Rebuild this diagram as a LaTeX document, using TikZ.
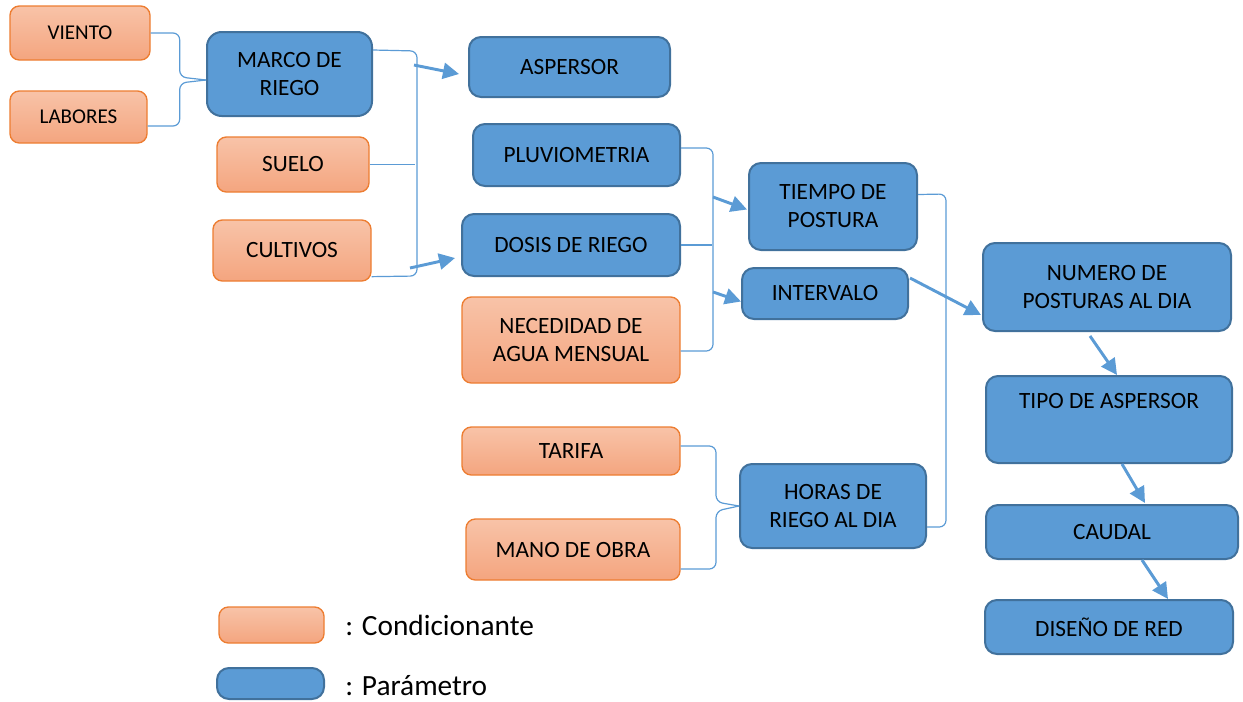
\documentclass[tikz,border=0pt]{standalone}
\usepackage{fontspec}
\setmainfont{Carlito}
\usetikzlibrary{arrows.meta,calc}
\definecolor{pblue}{HTML}{5B9BD5}
\definecolor{pbline}{HTML}{41719C}
\definecolor{otop}{HTML}{F8C3A8}
\definecolor{obot}{HTML}{F4A57F}
\definecolor{oline}{HTML}{ED7D31}
\definecolor{cline}{HTML}{5B9BD5}
\tikzset{
 param/.style={draw=pbline, fill=pblue, line width=1.5pt, rounded corners=9pt, inner sep=0pt, align=center, font=\fontsize{17.5}{21}\selectfont},
 cond/.style={draw=oline, top color=otop, bottom color=obot, line width=1pt, rounded corners=7pt, inner sep=0pt, align=center, font=\fontsize{17.5}{21}\selectfont},
 small/.style={font=\fontsize{15.8}{19}\selectfont},
 conn/.style={draw=cline, line width=0.9pt, rounded corners=5pt},
 arr/.style={draw=cline, line width=2.2pt, -{Triangle[length=12pt,width=12pt]}},
 legtext/.style={anchor=west, font=\fontsize{22}{26}\selectfont, inner sep=0pt},
}
\newcommand\bx[7]{\node[#2, minimum width={(#5-#3)*0.75pt}, minimum height={(#6-#4)*0.75pt}] (#1) at ({(#3+#5)/2},{(#4+#6)/2}) {#7};}
\begin{document}
\begin{tikzpicture}[x=0.75pt,y=-0.75pt]
\useasboundingbox (0,0) rectangle (1243,701);
\bx{viento}{cond,small}{10}{6}{150}{60}{VIENTO}
\bx{labores}{cond,small}{10}{91}{147}{143}{LABORES}
\bx{marco}{param,rounded corners=11pt}{207}{32}{372}{116}{MARCO DE\\RIEGO}
\bx{suelo}{cond}{217}{137}{369}{192}{SUELO}
\bx{cultivos}{cond}{213}{220}{371}{281}{CULTIVOS}
\bx{aspersor}{param}{469}{37}{670}{97}{ASPERSOR}
\bx{pluvio}{param}{473}{124}{680}{186}{PLUVIOMETRIA}
\bx{dosis}{param}{462}{214}{680}{276}{DOSIS DE RIEGO}
\bx{neces}{cond}{462}{297}{680}{383}{NECEDIDAD DE\\AGUA MENSUAL}
\bx{tiempo}{param}{749}{163}{917}{250}{TIEMPO DE\\POSTURA}
\bx{intervalo}{param}{742}{268}{908}{319}{INTERVALO}
\bx{tarifa}{cond}{462}{427}{680}{475}{TARIFA}
\bx{mano}{cond}{466}{519}{680}{580}{MANO DE OBRA}
\bx{horas}{param}{740}{464}{926}{548}{HORAS DE\\RIEGO AL DIA}
\bx{numero}{param}{983}{243}{1231}{331}{NUMERO DE\\POSTURAS AL DIA}
\bx{tipo}{param}{986}{376}{1232}{463}{TIPO DE ASPERSOR\\ \strut}
\bx{caudal}{param}{986}{505}{1238}{559}{CAUDAL}
\bx{diseno}{param}{985}{600}{1233}{654}{DISEÑO DE RED}
\bx{legc}{cond}{219}{607}{324}{643}{}
\bx{legp}{param}{217}{668}{324}{699}{}
\node[legtext] (tc) at (345,625) {: Condicionante};
\node[legtext] (tp) at (345,686) {: Parámetro};
% brackets
\draw[conn] (viento.east) -- ++(29,0) -- ++(0,44) -- ($(marco.west)+(0,6)$);
\draw[conn] ($(labores.east)+(0,9)$) -- ++(32,0) -- ++(0,-43) -- ($(marco.west)+(0,6)$);
\draw[conn] ($(marco.north east)+(0,19)$) -- (417,51) -- (417,276) -- ($(cultivos.south east)+(0,-5)$);
\draw[conn] (suelo.east) -- ++(45,0);
\draw[arr] (414,65) -- ($(aspersor.west)+(-9,7)$);
\draw[arr] (410,268) -- ($(dosis.west)+(-6,13)$);
\draw[conn] ($(pluvio.east)+(0,-7)$) -- (713,148) -- (713,351) -- ($(neces.east)+(0,11)$);
\draw[conn] (dosis.east) -- ++(31,0);
\draw[arr] (713,197) -- ($(tiempo.west)+(-1,3)$);
\draw[arr] (713,292) -- ($(intervalo.west)+(0,8)$);
\draw[conn] ($(tiempo.east)+(0,-12)$) -- (946,194) -- (946,527) -- ($(horas.east)+(0,21)$);
\draw[arr] ($(intervalo.north east)+(1,11)$) -- ($(numero.west)+(-1,28)$);
\draw[conn] ($(tarifa.east)+(0,-5)$) -- (716,446) -- (716,502) -- (horas.west);
\draw[conn] ($(mano.east)+(0,19.5)$) -- (716,569) -- (716,511) -- (horas.west);
\draw[arr] ($(numero.south)+(-17,4)$) -- ($(tipo.north)+(8,0)$);
\draw[arr] ($(tipo.south)+(13,0)$) -- ($(caudal.north)+(33,-1)$);
\draw[arr] ($(caudal.south)+(30,0)$) -- ($(diseno.north)+(59,0)$);
\end{tikzpicture}
\end{document}
